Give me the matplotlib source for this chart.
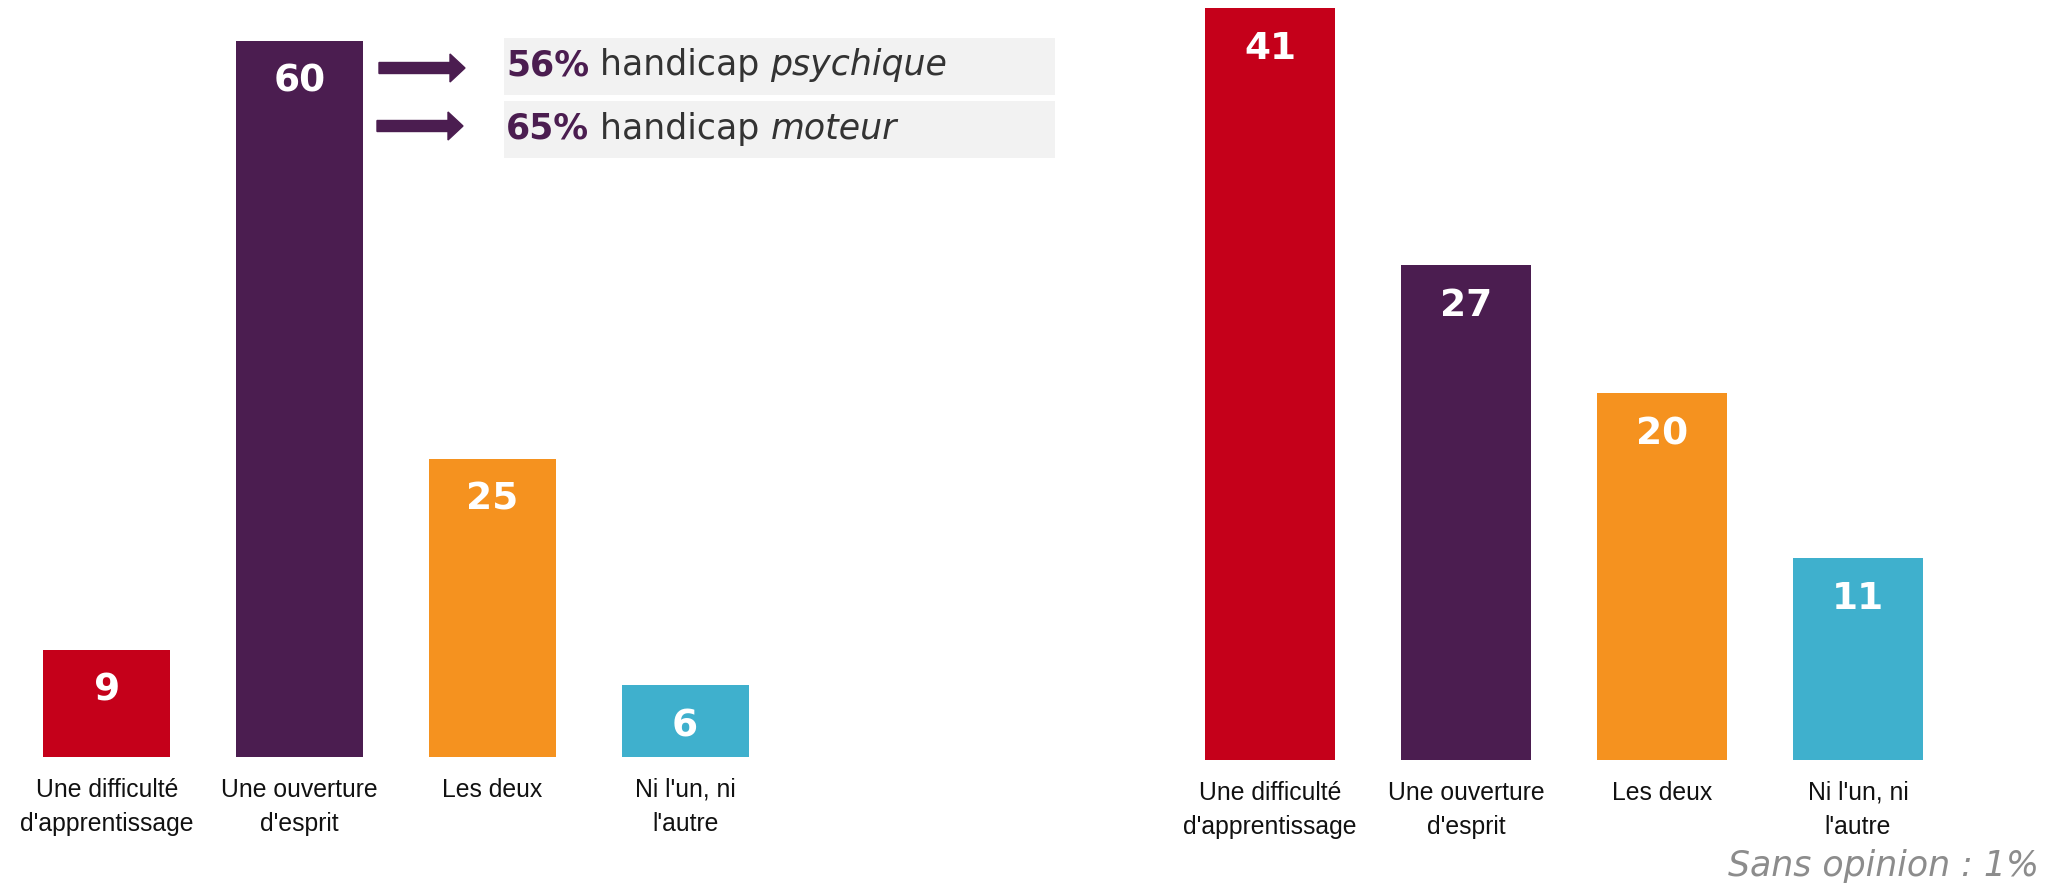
import matplotlib
matplotlib.use("Agg")
import matplotlib.pyplot as plt
from matplotlib.patches import FancyArrow, Rectangle

categories = ["Une difficulté\nd'apprentissage", "Une ouverture\nd'esprit", "Les deux", "Ni l'un, ni\nl'autre"]
left_values = [9, 60, 25, 6]
right_values = [41, 27, 20, 11]
bar_colors = ["#c5001a", "#4b1d50", "#f5921f", "#3fb0cd"]
callout_pcts = ["56%", "65%"]
callout_kinds = ["psychique", "moteur"]
note = "Sans opinion : 1%"

W, H = 2065, 885
fig = plt.figure(figsize=(W / 100, H / 100), dpi=100)

def px_axes(x0, x1, ytop, ybot):
  return fig.add_axes([x0 / W, 1 - ybot / H, (x1 - x0) / W, (ybot - ytop) / H])

def draw_bars(ax, values):
  x = range(len(values))
  bars = ax.bar(x, values, width=0.66, color=bar_colors)
  for b, v in zip(bars, values):
    ax.annotate(str(v), xy=(b.get_x() + b.get_width() / 2, v), xytext=(0, -29.5),
                textcoords="offset points", ha="center", va="center",
                color="white", fontsize=27, fontweight="bold")
  ax.set_xlim(-0.5, len(values) - 0.5)
  ax.set_ylim(0, max(values))
  ax.set_xticks(list(x))
  ax.set_xticklabels(categories, fontsize=17.8, linespacing=1.55, color="#111111",
                     family="Liberation Sans")
  ax.tick_params(axis="x", length=0, pad=15)
  ax.set_yticks([])
  for s in ax.spines.values():
    s.set_visible(False)

ax1 = px_axes(10.5, 781.5, 41, 757)
draw_bars(ax1, left_values)
ax2 = px_axes(1172, 1956, 8, 760)
draw_bars(ax2, right_values)

# callout boxes and arrows (figure pixel coords)
box_rows = [(38, 95), (101, 158)]
arrow_rows = [(379, 68), (377, 126)]
for (yt, yb), (ax0, ay) in zip(box_rows, arrow_rows):
  fig.patches.append(Rectangle((504, H - yb), 551, yb - yt, transform=None,
                               facecolor="#f2f2f2", edgecolor="none"))
  fig.patches.append(FancyArrow(ax0, H - ay, 86, 0, width=11, head_width=28,
                                head_length=15, length_includes_head=True,
                                transform=None, color="#4b1d50"))

fig.canvas.draw()
r = fig.canvas.get_renderer()
text_y = [62, 125]
for pct, kind, ty in zip(callout_pcts, callout_kinds, text_y):
  t1 = fig.text(506 / W, 1 - ty / H, pct, fontsize=25, fontweight="bold",
                color="#4b1d50", va="center_baseline")
  x = t1.get_window_extent(r).x1
  t2 = fig.text(x / W, 1 - ty / H, " handicap ", fontsize=25, color="#333333",
                va="center_baseline")
  x = t2.get_window_extent(r).x1
  fig.text(x / W, 1 - ty / H, kind, fontsize=25, style="italic", color="#333333",
           va="center_baseline")

fig.text(2039 / W, 1 - 866 / H, note, ha="right", va="center", fontsize=25,
         style="italic", color="#8c8c8c")

plt.savefig("out.png", dpi=100)
